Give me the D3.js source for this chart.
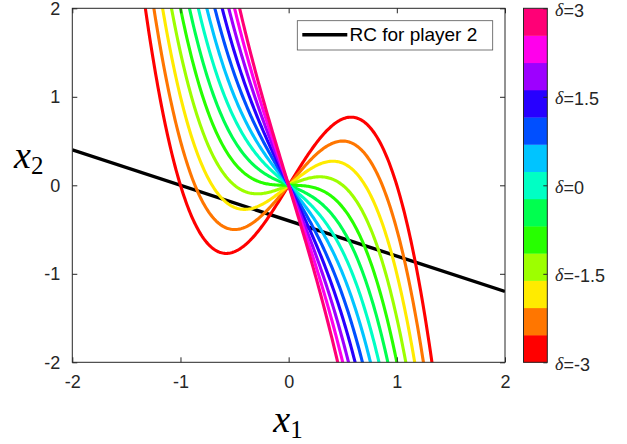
<!DOCTYPE html>
<html>
<head>
<meta charset="utf-8">
<script src="https://cdn.jsdelivr.net/npm/d3@7/dist/d3.min.js"></script>
<style>
  body { margin: 0; background: #fff; }
  svg { display: block; }
</style>
</head>
<body>
<svg width="627" height="444"></svg>
<script>
// **** Data ****

// one curve per delta, x2 = a*x1 + b*x1^3
var deltas = [-3, -2.5, -2, -1.5, -1, -0.5, 0, 0.5, 1, 1.5, 2, 2.5, 3];
var linearCoef = [2, 1.5, 1, 0.5, 0, -0.5, -1, -1.5, -2, -2.5, -3, -3.5, -4];
var cubicCoef = -2;

// colour of each delta band (bottom to top)
var bandColors = ["#FF0000", "#FF7600", "#FFEB00", "#9DFF00", "#27FF00", "#00FF4F",
                  "#00FFC4", "#00C4FF", "#004FFF", "#2700FF", "#9D00FF", "#FF00EB", "#FF0076"];

// reaction curve of player 2 (straight line end points)
var rcX = [-2, 2];
var rcY = [0.4, -1.2];

var xTicks = [-2, -1, 0, 1, 2];
var yTicks = [-2, -1, 0, 1, 2];
var cbTicks = [-3, -1.5, 0, 1.5, 3];

// **** Scales ****

var xScale = d3.scaleLinear().domain([-2, 2]).range([72.3, 505]);
var yScale = d3.scaleLinear().domain([-2, 2]).range([362.3, 8.3]);
var cbScale = d3.scaleLinear().domain([-3, 3]).range([362.3, 8.3]);

var svg = d3.select("svg");

svg.append("clipPath")
    .attr("id", "plotclip")
  .append("rect")
    .attr("x", 72.3).attr("y", 8.3)
    .attr("width", 432.7).attr("height", 354);

var plot = svg.append("g").attr("clip-path", "url(#plotclip)");

var line = d3.line()
    .x(function(d){ return xScale(d[0]); })
    .y(function(d){ return yScale(d[1]); });

// RC line first, curves over it
plot.append("path")
    .attr("d", line(rcX.map(function(x, i){ return [x, rcY[i]]; })))
    .attr("fill", "none")
    .attr("stroke", "#000")
    .attr("stroke-width", 3.4);

var xs = d3.range(-2, 2.0001, 0.01);
deltas.forEach(function(dl, i){
    var pts = xs.map(function(x){ return [x, linearCoef[i] * x + cubicCoef * x * x * x]; });
    plot.append("path")
        .attr("d", line(pts))
        .attr("fill", "none")
        .attr("stroke", bandColors[i])
        .attr("stroke-width", 3.1)
        .attr("stroke-linejoin", "round");
});

// **** Axes box with inward ticks ****

var axisColor = "#262626";
svg.append("rect")
    .attr("x", 72.3).attr("y", 8.3)
    .attr("width", 432.7).attr("height", 354)
    .attr("fill", "none")
    .attr("stroke", axisColor)
    .attr("stroke-width", 1);

var bottomAxis = svg.append("g")
    .attr("transform", "translate(0,362.3)")
    .call(d3.axisBottom(xScale).tickValues(xTicks).tickSizeInner(-5).tickSizeOuter(0).tickPadding(13)
        .tickFormat(function(d){ return d; }));
var topAxis = svg.append("g")
    .attr("transform", "translate(0,8.3)")
    .call(d3.axisTop(xScale).tickValues(xTicks).tickSizeInner(-5).tickSizeOuter(0).tickFormat(""));
var leftAxis = svg.append("g")
    .attr("transform", "translate(72.3,0)")
    .call(d3.axisLeft(yScale).tickValues(yTicks).tickSizeInner(-5).tickSizeOuter(0).tickPadding(12)
        .tickFormat(function(d){ return d; }));
var rightAxis = svg.append("g")
    .attr("transform", "translate(505,0)")
    .call(d3.axisRight(yScale).tickValues(yTicks).tickSizeInner(-5).tickSizeOuter(0).tickFormat(""));

[bottomAxis, topAxis, leftAxis, rightAxis].forEach(function(g){
    g.select(".domain").remove();
    g.selectAll("line").attr("stroke", axisColor);
    g.selectAll("text")
        .attr("fill", axisColor)
        .style("font-family", "'Liberation Sans', Arial, sans-serif")
        .style("font-size", "18px");
});

// axis labels
var xl = svg.append("text")
    .attr("x", 288).attr("y", 432)
    .attr("text-anchor", "middle")
    .style("font-family", "'Liberation Serif', 'Times New Roman', serif")
    .style("fill", "#000");
xl.append("tspan").style("font-style", "italic").style("font-size", "38px").text("x");
xl.append("tspan").attr("dy", 6).style("font-size", "25px").text("1");

var yl = svg.append("text")
    .attr("x", 14).attr("y", 168)
    .style("font-family", "'Liberation Serif', 'Times New Roman', serif")
    .style("fill", "#000");
yl.append("tspan").style("font-style", "italic").style("font-size", "38px").text("x");
yl.append("tspan").attr("dy", 6).style("font-size", "25px").text("2");

// **** Legend ****

svg.append("rect")
    .attr("x", 297.3).attr("y", 20.7)
    .attr("width", 195.4).attr("height", 29.3)
    .attr("fill", "#fff")
    .attr("stroke", "#555")
    .attr("stroke-width", 0.8);
svg.append("line")
    .attr("x1", 302.3).attr("x2", 347.3)
    .attr("y1", 34.7).attr("y2", 34.7)
    .attr("stroke", "#000")
    .attr("stroke-width", 3.4);
svg.append("text")
    .attr("x", 349.5).attr("y", 35.5)
    .attr("dominant-baseline", "middle")
    .style("font-family", "'Liberation Sans', Arial, sans-serif")
    .style("font-size", "19px")
    .style("fill", "#000")
    .text("RC for player 2");

// **** Colorbar ****

var bandH = (cbScale(-3) - cbScale(3)) / bandColors.length;
svg.append("g").selectAll("rect")
    .data(bandColors)
    .enter()
    .append("rect")
    .attr("x", 523.5)
    .attr("y", function(d, i){ return cbScale(-3) - (i + 1) * bandH; })
    .attr("width", 23.8)
    .attr("height", bandH + 0.3)
    .attr("fill", function(d){ return d; });

svg.append("rect")
    .attr("x", 523.5).attr("y", 8.3)
    .attr("width", 23.8).attr("height", 354)
    .attr("fill", "none")
    .attr("stroke", axisColor)
    .attr("stroke-width", 1);

var cbAxis = svg.append("g")
    .attr("transform", "translate(547.3,0)")
    .call(d3.axisRight(cbScale).tickValues(cbTicks).tickSizeInner(-4).tickSizeOuter(0).tickFormat(""));
cbAxis.select(".domain").remove();
cbAxis.selectAll("line").attr("stroke", axisColor);

var cbLabels = svg.append("g").selectAll("text")
    .data(cbTicks)
    .enter()
    .append("text")
    .attr("x", 555)
    .attr("y", function(d){ return cbScale(d) + 3.5; })
    .attr("dominant-baseline", "middle")
    .style("font-family", "'Liberation Sans', Arial, sans-serif")
    .style("font-size", "18px")
    .style("fill", axisColor);
cbLabels.append("tspan")
    .style("font-family", "'Liberation Serif', 'Times New Roman', serif")
    .style("font-style", "italic")
    .text("\u03b4");
cbLabels.append("tspan")
    .text(function(d){ return "=" + d; });
</script>
</body>
</html>
